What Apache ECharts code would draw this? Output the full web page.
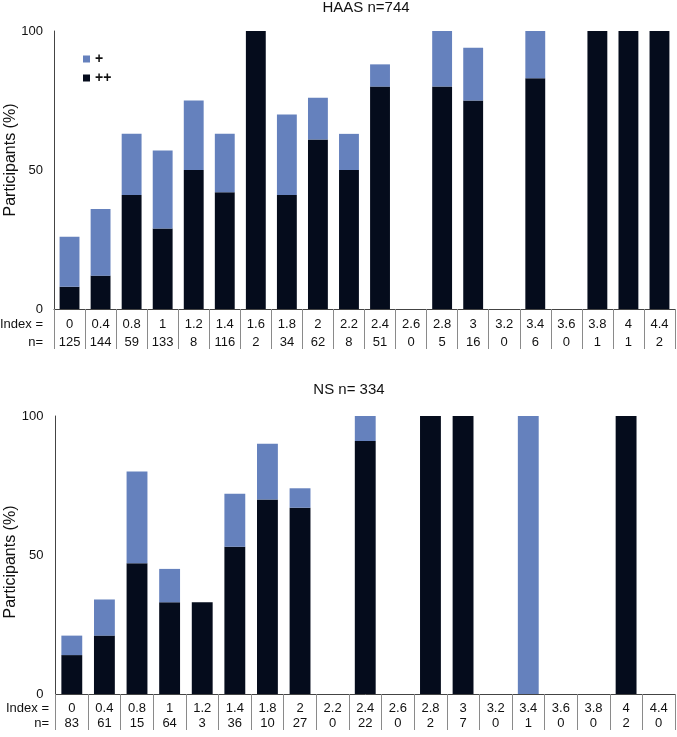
<!DOCTYPE html>
<html><head><meta charset="utf-8">
<script src="https://cdn.jsdelivr.net/npm/echarts@6/dist/echarts.min.js"></script>
<style>html,body{margin:0;padding:0;background:#fff}#c{width:677px;height:737px}</style>
</head><body><div id="c"></div>
<script>
// HAAS panel
const haasIndex = ['0','0.4','0.8','1','1.2','1.4','1.6','1.8','2','2.2','2.4','2.6','2.8','3','3.2','3.4','3.6','3.8','4','4.4'];
const haasN = [125,144,59,133,8,116,2,34,62,8,51,0,5,16,0,6,0,1,1,2];
const haasPlusPlus = [8,12,41,29,50,42,100,41,61,50,80,0,80,75,0,83,0,100,100,100];
const haasPlus = [18,24,22,28,25,21,0,29,15,13,8,0,20,19,0,17,0,0,0,0];
// NS panel
const nsIndex = ['0','0.4','0.8','1','1.2','1.4','1.8','2','2.2','2.4','2.6','2.8','3','3.2','3.4','3.6','3.8','4','4.4'];
const nsN = [83,61,15,64,3,36,10,27,0,22,0,2,7,0,1,0,0,2,0];
const nsPlusPlus = [14,21,47,33,33,53,70,67,0,91,0,100,100,0,0,0,0,100,0];
const nsPlus = [7,13,33,12,0,19,20,7,0,9,0,0,0,0,100,0,0,0,0];
const yTicks = [0, 50, 100];

const LIGHT = '#6581bd';
const DARK = '#050c1c';
const FONT = 'Liberation Sans, Arial, sans-serif';

const chart = echarts.init(document.getElementById('c'), null, {renderer: 'canvas'});

function xAxisFor(idx, cats, ns, margin, lh, tickLen) {
  return {
    type: 'category', gridIndex: idx, data: cats, boundaryGap: true,
    axisLine: {show: true, lineStyle: {color: '#444', width: 1}},
    axisTick: {show: true, interval: 0, length: tickLen, lineStyle: {color: '#8a8a8a', width: 1}},
    axisLabel: {
      interval: 0, margin: margin, fontSize: 13, fontFamily: FONT, color: '#111', lineHeight: lh,
      formatter: (v, i) => v + '\n' + ns[i]
    }
  };
}
function yAxisFor(idx, margin) {
  return {
    type: 'value', gridIndex: idx, min: yTicks[0], max: yTicks[yTicks.length - 1], interval: 50,
    axisLine: {show: true, lineStyle: {color: '#444', width: 1}},
    axisTick: {show: false}, splitLine: {show: false},
    axisLabel: {margin: margin, fontSize: 13, fontFamily: FONT, color: '#111'}
  };
}
function txt(x, y, text, size, align, rot) {
  return {
    type: 'text', x: x, y: y, rotation: rot || 0,
    style: {text: text, fontSize: size, fontFamily: FONT, fill: '#111', align: align, verticalAlign: 'middle'}
  };
}

chart.setOption({
  animation: false,
  textStyle: {fontFamily: FONT},
  grid: [
    {left: 54, top: 31, height: 278, right: 2},
    {left: 55.5, top: 416, height: 278, right: 2}
  ],
  legend: {
    data: ['+', '++'], orient: 'vertical', left: 78, top: 47,
    itemWidth: 7, itemHeight: 7, itemGap: 5, icon: 'rect',
    textStyle: {fontSize: 14, fontWeight: 'bold', color: '#111', fontFamily: FONT}
  },
  xAxis: [
    xAxisFor(0, haasIndex, haasN, 6, 18, 40),
    xAxisFor(1, nsIndex, nsN, 7, 15, 36)
  ],
  yAxis: [yAxisFor(0, 11), yAxisFor(1, 12)],
  series: [
    {name: '++', type: 'bar', stack: 'a', xAxisIndex: 0, yAxisIndex: 0, data: haasPlusPlus, barWidth: '64%', itemStyle: {color: DARK}},
    {name: '+', type: 'bar', stack: 'a', xAxisIndex: 0, yAxisIndex: 0, data: haasPlus, barWidth: '64%', itemStyle: {color: LIGHT}},
    {name: '++', type: 'bar', stack: 'b', xAxisIndex: 1, yAxisIndex: 1, data: nsPlusPlus, barWidth: '64%', itemStyle: {color: DARK}},
    {name: '+', type: 'bar', stack: 'b', xAxisIndex: 1, yAxisIndex: 1, data: nsPlus, barWidth: '64%', itemStyle: {color: LIGHT}}
  ],
  graphic: [
    txt(366, 8, 'HAAS n=744', 15, 'center'),
    txt(349, 390, 'NS n= 334', 15, 'center'),
    txt(11, 160, 'Participants (%)', 16, 'center', Math.PI / 2),
    txt(11, 562, 'Participants (%)', 16, 'center', Math.PI / 2),
    txt(43, 324, 'Index =', 13, 'right'),
    txt(43, 342, 'n=', 13, 'right'),
    txt(49, 708, 'Index =', 13, 'right'),
    txt(49, 723, 'n=', 13, 'right')
  ]
});
</script>
</body></html>
